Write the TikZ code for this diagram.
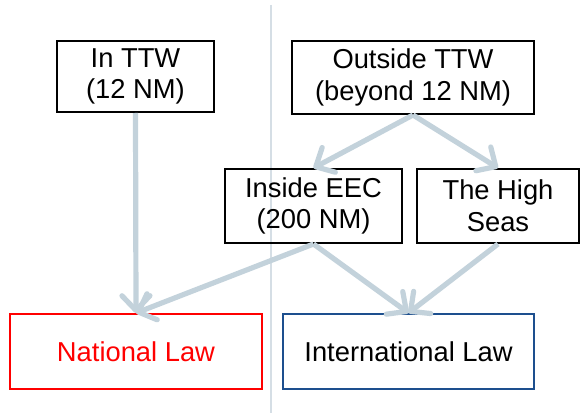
\documentclass[tikz,border=0pt]{standalone}
\usepackage{fontspec}
\setmainfont{Liberation Sans}
\usetikzlibrary{arrows.meta}
\definecolor{ArrowGray}{HTML}{C3D2DB}
\definecolor{DivGray}{HTML}{D5DEE5}
\definecolor{LawBlue}{HTML}{1D4F8E}
\tikzset{
  box/.style={draw, line width=1.5pt, inner sep=0pt, align=center,
    font=\fontsize{20.5}{23.8}\selectfont},
  flow/.style={ArrowGray, line width=3.9pt,
    -{Straight Barb[length=11pt,width=21pt,round,line width=3.9pt]}}
}
\begin{document}
\begin{tikzpicture}[x=0.75pt,y=-0.75pt]
    \useasboundingbox (0,0) rectangle (581,413);
    \coordinate (DivTop) at (271,5);
    \coordinate (DivBot) at (271,413);
    \draw [DivGray, line width=1pt] (DivTop) -- (DivBot);% divider

    % upper row
    \node[box, minimum width=117.75pt, minimum height=53.25pt] (InTTW)
        at (135.5,76.5) {In TTW\\(12 NM)};
    \node[box, minimum width=181.5pt, minimum height=54.75pt] (OutTTW)
        at (413,77.5) {Outside TTW\\(beyond 12 NM)};
    % middle row
    \node[box, minimum width=132.75pt, minimum height=55.5pt] (InEEC)
        at (313.5,206) {Inside EEC\\(200 NM)};
    \node[box, minimum width=121.5pt, minimum height=55.5pt] (HighSeas)
        at (498,206) {The High\\Seas};
    % the two laws
    \node[box, draw=red, text=red, minimum width=189pt, minimum height=56.25pt] (NatLaw)
        at (136,351.5) {National Law};
    \node[box, draw=LawBlue, minimum width=188.25pt, minimum height=56.25pt] (IntLaw)
        at (408.5,351.5) {International Law};

    \draw [flow] (OutTTW.south) -- (InEEC.north);
    \draw [flow] (OutTTW.south) -- (HighSeas.north);
    \draw [flow] (InTTW.south) -- (NatLaw.north);
    \draw [flow] (InEEC.south) -- (NatLaw.north);
    \draw [flow] (InEEC.south) -- (IntLaw.north);
    \draw [flow] (HighSeas.south) -- (IntLaw.north);
\end{tikzpicture}
\end{document}
